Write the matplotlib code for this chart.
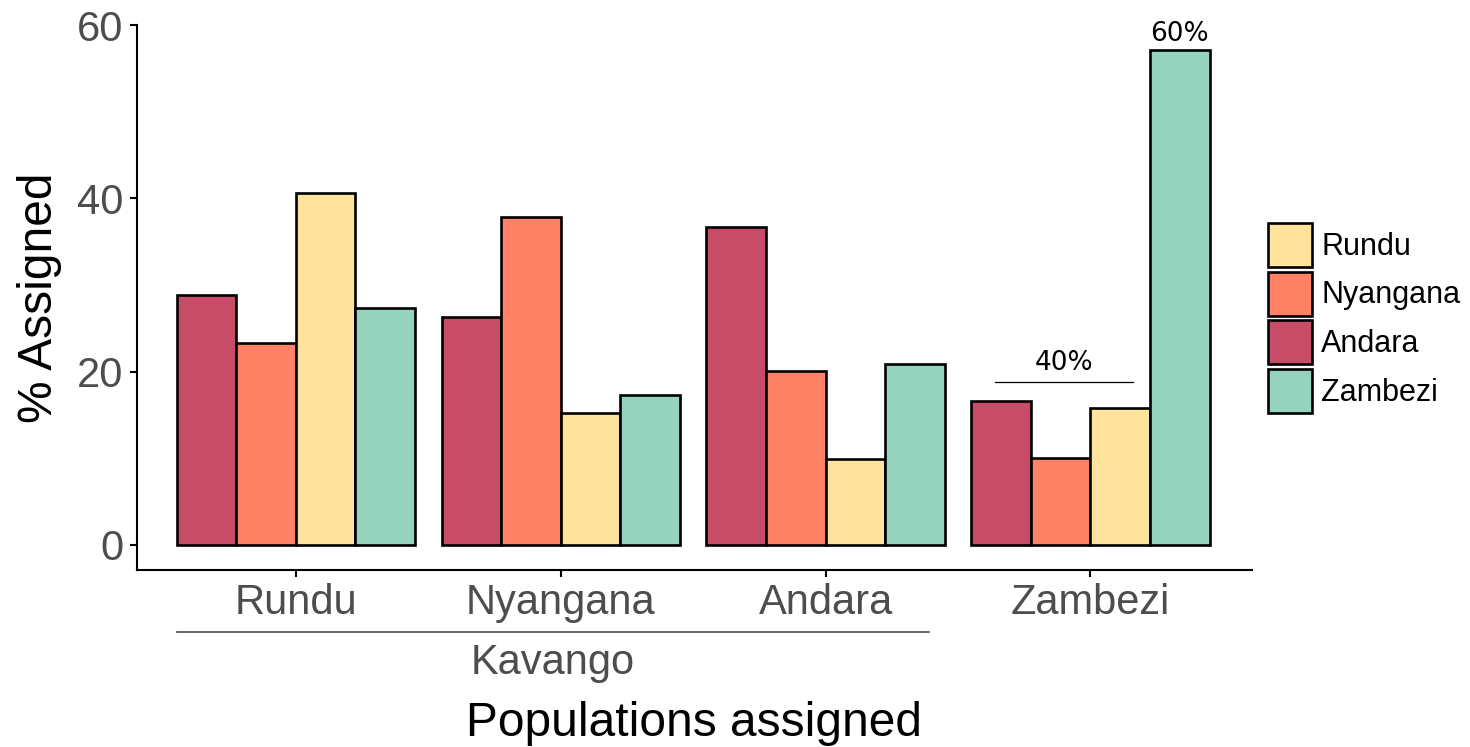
import numpy as np
import matplotlib
matplotlib.use("Agg")
import matplotlib.pyplot as plt
import matplotlib.transforms as mtransforms

# % of individuals from each source population assigned to each population
populations = ["Rundu", "Nyangana", "Andara", "Zambezi"]
sources = ["Andara", "Nyangana", "Rundu", "Zambezi"]
andara = [28.8, 26.3, 36.7, 16.6]
nyangana = [23.3, 37.9, 20.1, 10.0]
rundu = [40.6, 15.2, 9.9, 15.8]
zambezi = [27.4, 17.3, 20.9, 57.1]
legend_order = ["Rundu", "Nyangana", "Andara", "Zambezi"]
region_label = "Kavango"

colors = {
    "Andara": "#C74C67",
    "Nyangana": "#FF8267",
    "Rundu": "#FEE39C",
    "Zambezi": "#96D3BE",
}
series = {"Andara": andara, "Nyangana": nyangana, "Rundu": rundu, "Zambezi": zambezi}

plt.rcParams["font.family"] = ["Liberation Sans", "DejaVu Sans"]
GREY = "#4D4D4D"

W, H = 1470, 747
fig = plt.figure(figsize=(W / 100, H / 100), dpi=100)
ax = fig.add_axes([137 / W, 1 - 570 / H, (1252 - 137) / W, (570 - 25) / H])

x = np.arange(1, len(populations) + 1)
width = 0.225
handles = {}
for i, name in enumerate(sources):
    offset = (i - 1.5) * width
    handles[name] = ax.bar(x + offset, series[name], width, color=colors[name],
                           edgecolor="black", linewidth=1.9, label=name)

ax.set_xlim(0.4, 4.61)
ax.set_ylim(-2.885, 60)
ax.set_xticks(x)
ax.set_xticklabels(populations)
ax.set_yticks([0, 20, 40, 60])

for side in ["top", "right"]:
    ax.spines[side].set_visible(False)
for side in ["left", "bottom"]:
    ax.spines[side].set_linewidth(1.5)
ax.tick_params(axis="both", labelsize=30, labelcolor=GREY, width=1.5, length=5)
ax.tick_params(axis="x", pad=4.5)
ax.tick_params(axis="y", pad=5)

ax.set_ylabel("% Assigned", fontsize=34.5, va="center")
ax.yaxis.set_label_coords(-0.087, 0.5)
ax.set_xlabel("Populations assigned", fontsize=34.5, va="baseline")
ax.xaxis.set_label_coords(0.5, -0.3046)

# bracket grouping the Kavango populations below the tick labels
trans = mtransforms.blended_transform_factory(ax.transData, ax.transAxes)
ax.plot([0.55, 3.39], [-0.1138, -0.1138], color=GREY, lw=1.2,
        transform=trans, clip_on=False)
ax.text(1.97, -0.19, region_label, fontsize=30, color=GREY, ha="center",
        va="baseline", transform=trans)

# summary annotations for the Zambezi group
zi = populations.index("Zambezi")
zam_x = x[zi] + 1.5 * width
zam_val = zambezi[zi]
ax.text(zam_x, zam_val + 1.0, f"{round(zam_val, -1):.0f}%", fontsize=19,
        family="DejaVu Sans", ha="center", va="baseline", clip_on=False)

others = [andara[zi], nyangana[zi], rundu[zi]]
line_y = max(others) + 2.2
ax.plot([3.64, 4.16], [line_y, line_y], color="black", lw=0.9)
ax.text(3.9, line_y + 1.4, f"{round(sum(others), -1):.0f}%", fontsize=19,
        family="DejaVu Sans", ha="center", va="baseline")

# legend keys ~44 px square; matplotlib draws patch height fs*(0.65*hh + 0.245)
fs = 22
fs_px = fs * 100 / 72
hh = (44 / fs_px - 0.245) / 0.65
ax.legend([handles[n] for n in legend_order], legend_order, frameon=False,
          fontsize=fs, loc="upper left",
          bbox_to_anchor=(1268 / W, 1 - 223 / H), bbox_transform=fig.transFigure,
          borderpad=0, borderaxespad=0, handlelength=44 / fs_px,
          handleheight=hh, labelspacing=0.15, handletextpad=0.3)

fig.savefig("out.png", dpi=100)
